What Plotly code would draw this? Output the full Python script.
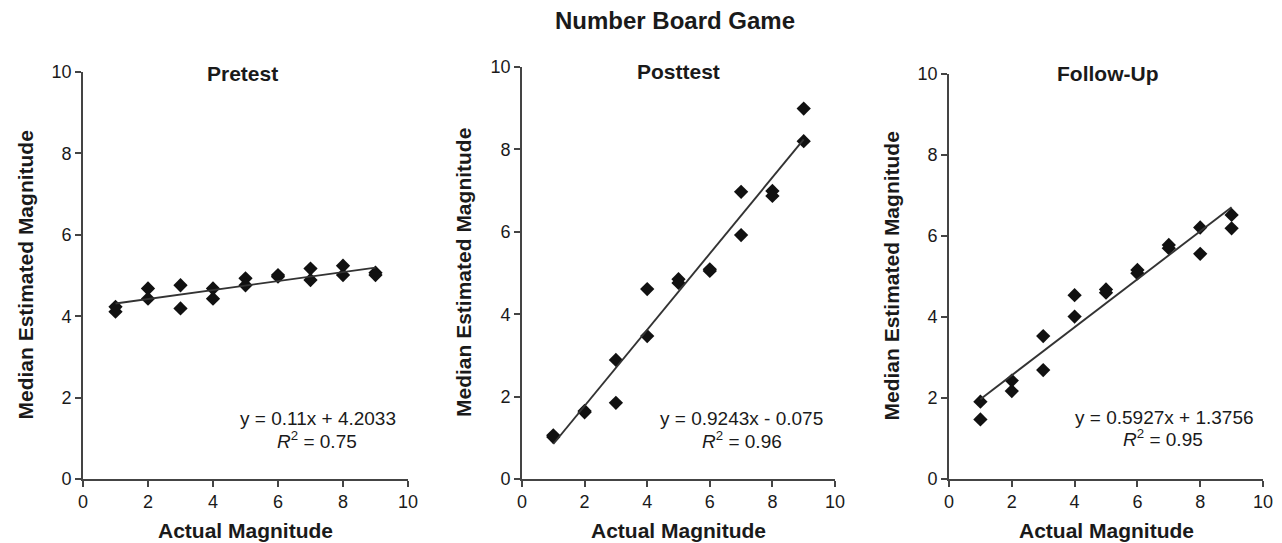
import plotly.graph_objects as go

# page has an 8px body margin; figure is sized to fit inside the window
OFF = 8
FW, FH = 1282 - OFF, 543 - OFF

# ---- data ----
panel_titles = ["Pretest", "Posttest", "Follow-Up"]
actual = [1, 1, 2, 2, 3, 3, 4, 4, 5, 5, 6, 6, 7, 7, 8, 8, 9, 9]
pretest = [4.23, 4.11, 4.68, 4.43, 4.76, 4.19, 4.68, 4.43, 4.93, 4.76,
           5.01, 4.97, 5.17, 4.89, 5.24, 5.01, 5.07, 5.01]
posttest = [1.02, 1.06, 1.62, 1.65, 2.89, 1.85, 4.61, 3.47, 4.85, 4.76,
            5.05, 5.09, 6.97, 5.92, 6.99, 6.87, 8.99, 8.20]
followup = [1.91, 1.47, 2.43, 2.17, 3.53, 2.69, 4.54, 4.01, 4.68, 4.60,
            5.16, 5.08, 5.78, 5.70, 6.21, 5.56, 6.52, 6.19]
slopes = [0.11, 0.9243, 0.5927]
intercepts = [4.2033, -0.075, 1.3756]
equations = ["y = 0.11x + 4.2033", "y = 0.9243x - 0.075", "y = 0.5927x + 1.3756"]
r2_labels = ["0.75", "0.96", "0.95"]
fit_x = [1, 9]
tick_vals = [0, 2, 4, 6, 8, 10]

series = [pretest, posttest, followup]

# ---- layout geometry (window pixels) ----
plot_px = [  # left, right, top, bottom
    (83, 408, 72, 479),
    (522, 835, 67, 479),
    (949, 1263, 74, 479),
]
title_pos = [(242, 73), (679, 72), (1107, 73)]
eq_pos = [(318, 418, 317, 440), (741, 418, 742, 440), (1164, 417, 1163, 438)]

def px(x):
    return (x - OFF) / FW

def py(y):
    return 1 - (y - OFF) / FH

FONT = "Liberation Sans, Arial, sans-serif"
TXT = "#1a1a1a"
AX = "#444444"

fig = go.Figure()
annotations = []

for i in range(3):
    xa = "x" if i == 0 else f"x{i+1}"
    ya = "y" if i == 0 else f"y{i+1}"
    fig.add_trace(go.Scatter(
        x=actual, y=series[i], mode="markers", xaxis=xa, yaxis=ya,
        marker=dict(symbol="diamond", size=11, color="#111111",
                    line=dict(width=0)),
        showlegend=False, hoverinfo="x+y"))
    fy = [slopes[i] * v + intercepts[i] for v in fit_x]
    fig.add_trace(go.Scatter(
        x=fit_x, y=fy, mode="lines", xaxis=xa, yaxis=ya,
        line=dict(color="#333333", width=1.9),
        showlegend=False, hoverinfo="skip"))

    l, r, t, b = plot_px[i]
    axcommon = dict(range=[0, 10], tickvals=tick_vals, showgrid=False,
                    zeroline=False, showline=True, linecolor=AX, linewidth=1.7,
                    ticks="outside", ticklen=6, tickwidth=1.7, tickcolor=AX,
                    tickfont=dict(family=FONT, size=18, color=TXT),
                    fixedrange=True, automargin=False)
    fig.update_layout(**{
        ("xaxis" if i == 0 else f"xaxis{i+1}"): dict(
            domain=[px(l), px(r)], anchor=ya, **axcommon),
        ("yaxis" if i == 0 else f"yaxis{i+1}"): dict(
            domain=[py(b), py(t)], anchor=xa, **axcommon),
    })

    # subplot title
    tx, ty = title_pos[i]
    annotations.append(dict(text=f"<b>{panel_titles[i]}</b>", x=px(tx), y=py(ty),
                            xref="paper", yref="paper", showarrow=False,
                            xanchor="center", yanchor="middle",
                            font=dict(family=FONT, size=21, color=TXT)))
    # x axis title
    annotations.append(dict(text="<b>Actual Magnitude</b>", x=px((l + r) / 2), y=py(530),
                            xref="paper", yref="paper", showarrow=False,
                            xanchor="center", yanchor="middle",
                            font=dict(family=FONT, size=21, color=TXT)))
    # y axis title
    annotations.append(dict(text="<b>Median Estimated Magnitude</b>", x=px(l - 58),
                            y=py((t + b) / 2), xref="paper", yref="paper",
                            showarrow=False, textangle=-90,
                            xanchor="center", yanchor="middle",
                            font=dict(family=FONT, size=21, color=TXT)))
    # equation
    ex, ey, rx, ry = eq_pos[i]
    annotations.append(dict(text=equations[i], x=px(ex), y=py(ey),
                            xref="paper", yref="paper", showarrow=False,
                            xanchor="center", yanchor="middle",
                            font=dict(family=FONT, size=19, color=TXT)))
    annotations.append(dict(text=f"<i>R</i><sup>2</sup> = {r2_labels[i]}", x=px(rx), y=py(ry),
                            xref="paper", yref="paper", showarrow=False,
                            xanchor="center", yanchor="middle",
                            font=dict(family=FONT, size=19, color=TXT)))

annotations.append(dict(text="<b>Number Board Game</b>", x=px(675), y=py(20),
                        xref="paper", yref="paper", showarrow=False,
                        xanchor="center", yanchor="middle",
                        font=dict(family=FONT, size=24, color=TXT)))

fig.update_layout(width=FW, height=FH, margin=dict(l=0, r=0, t=0, b=0),
                  paper_bgcolor="white", plot_bgcolor="white",
                  annotations=annotations, font=dict(family=FONT))

fig.write_html("out.html")
